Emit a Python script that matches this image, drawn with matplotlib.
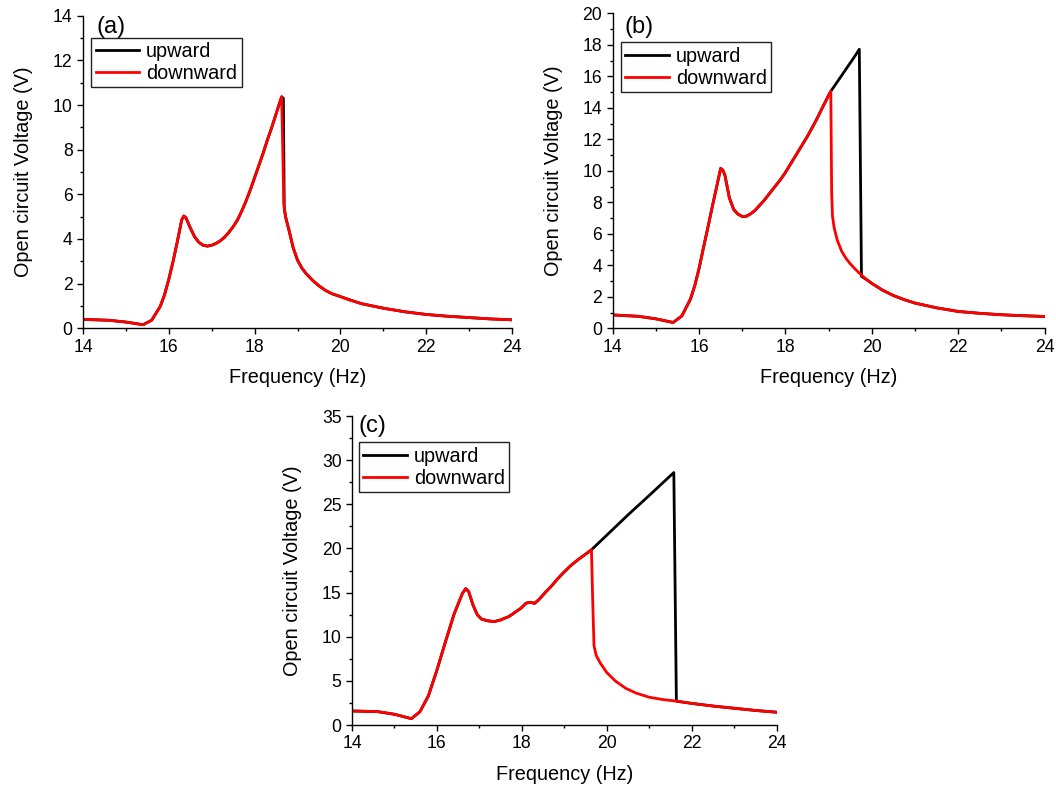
import matplotlib
matplotlib.use("Agg")
import matplotlib.pyplot as plt
from matplotlib.ticker import MultipleLocator

plt.rcParams["font.family"] = ["Liberation Sans", "DejaVu Sans"]

# ---- Panel (a) ----
freq_a_down = [14.0, 14.6, 15.0, 15.4, 15.6, 15.8, 15.9, 16.0, 16.1, 16.2, 16.3, 16.35,
               16.4, 16.5, 16.6, 16.7, 16.8, 16.9, 17.0, 17.1, 17.2, 17.3, 17.4, 17.5,
               17.6, 17.7, 17.8, 17.9, 18.0, 18.1, 18.2, 18.3, 18.4, 18.5, 18.6, 18.63,
               18.66, 18.68, 18.72, 18.8, 18.9, 19.0, 19.1, 19.2, 19.35, 19.5, 19.65, 19.8,
               20.0, 20.25, 20.5, 21.0, 21.5, 22.0, 22.5, 23.0, 23.5, 24.0]
volt_a_down = [0.40, 0.36, 0.28, 0.16, 0.36, 0.98, 1.5, 2.2, 3.0, 3.9, 4.85, 5.03,
               4.95, 4.5, 4.1, 3.85, 3.72, 3.68, 3.72, 3.8, 3.92, 4.08, 4.3, 4.55,
               4.85, 5.25, 5.7, 6.2, 6.75, 7.3, 7.85, 8.45, 9.0, 9.6, 10.2, 10.37,
               7.6, 5.6, 5.0, 4.4, 3.6, 3.05, 2.7, 2.45, 2.15, 1.9, 1.7, 1.55,
               1.42, 1.25, 1.1, 0.9, 0.74, 0.62, 0.54, 0.48, 0.42, 0.38]
freq_a_up = [14.0, 14.6, 15.0, 15.4, 15.6, 15.8, 15.9, 16.0, 16.1, 16.2, 16.3, 16.35,
             16.4, 16.5, 16.6, 16.7, 16.8, 16.9, 17.0, 17.1, 17.2, 17.3, 17.4, 17.5,
             17.6, 17.7, 17.8, 17.9, 18.0, 18.1, 18.2, 18.3, 18.4, 18.5, 18.6, 18.63,
             18.67, 18.69, 18.72, 18.8, 18.9, 19.0, 19.1, 19.2, 19.35, 19.5, 19.65, 19.8,
             20.0, 20.25, 20.5, 21.0, 21.5, 22.0, 22.5, 23.0, 23.5, 24.0]
volt_a_up = [0.40, 0.36, 0.28, 0.16, 0.36, 0.98, 1.5, 2.2, 3.0, 3.9, 4.85, 5.03,
             4.95, 4.5, 4.1, 3.85, 3.72, 3.68, 3.72, 3.8, 3.92, 4.08, 4.3, 4.55,
             4.85, 5.25, 5.7, 6.2, 6.75, 7.3, 7.85, 8.45, 9.0, 9.6, 10.2, 10.37,
             10.3, 5.4, 5.0, 4.4, 3.6, 3.05, 2.7, 2.45, 2.15, 1.9, 1.7, 1.55,
             1.42, 1.25, 1.1, 0.9, 0.74, 0.62, 0.54, 0.48, 0.42, 0.38]

# ---- Panel (b) ----
freq_b_down = [14.0, 14.6, 15.0, 15.4, 15.6, 15.8, 15.9, 16.0, 16.1, 16.2, 16.3, 16.4,
               16.5, 16.55, 16.6, 16.7, 16.8, 16.9, 17.0, 17.1, 17.2, 17.3, 17.4, 17.5,
               17.6, 17.7, 17.8, 17.9, 18.0, 18.1, 18.2, 18.3, 18.4, 18.5, 18.6, 18.7,
               18.8, 18.9, 19.0, 19.05,
               19.07, 19.09, 19.13, 19.2, 19.3, 19.4, 19.5, 19.6, 19.75, 19.9, 20.0,
               20.25, 20.5, 20.75, 21.0, 21.5, 22.0, 22.5, 23.0, 23.5, 24.0]
volt_b_down = [0.85, 0.76, 0.6, 0.37, 0.78, 1.85, 2.7, 3.8, 5.1, 6.35, 7.65, 8.9,
               10.15, 10.05, 9.7, 8.3, 7.55, 7.25, 7.1, 7.12, 7.28, 7.5, 7.8, 8.1,
               8.45, 8.8, 9.15, 9.5, 9.9, 10.35, 10.8, 11.25, 11.7, 12.15, 12.65, 13.15,
               13.7, 14.25, 14.8, 15.05,
               8.6, 7.1, 6.35, 5.6, 4.9, 4.45, 4.1, 3.8, 3.4, 3.05, 2.85,
               2.42, 2.08, 1.82, 1.6, 1.3, 1.07, 0.95, 0.86, 0.8, 0.75]
freq_b_up = [14.0, 14.6, 15.0, 15.4, 15.6, 15.8, 15.9, 16.0, 16.1, 16.2, 16.3, 16.4,
             16.5, 16.55, 16.6, 16.7, 16.8, 16.9, 17.0, 17.1, 17.2, 17.3, 17.4, 17.5,
             17.6, 17.7, 17.8, 17.9, 18.0, 18.1, 18.2, 18.3, 18.4, 18.5, 18.6, 18.7,
             18.8, 18.9, 19.0, 19.05,
             19.2, 19.4, 19.6, 19.71, 19.76, 19.9, 20.0,
             20.25, 20.5, 20.75, 21.0, 21.5, 22.0, 22.5, 23.0, 23.5, 24.0]
volt_b_up = [0.85, 0.76, 0.6, 0.37, 0.78, 1.85, 2.7, 3.8, 5.1, 6.35, 7.65, 8.9,
             10.15, 10.05, 9.7, 8.3, 7.55, 7.25, 7.1, 7.12, 7.28, 7.5, 7.8, 8.1,
             8.45, 8.8, 9.15, 9.5, 9.9, 10.35, 10.8, 11.25, 11.7, 12.15, 12.65, 13.15,
             13.7, 14.25, 14.8, 15.05,
             15.65, 16.45, 17.25, 17.72, 3.3, 3.05, 2.85,
             2.42, 2.08, 1.82, 1.6, 1.3, 1.07, 0.95, 0.86, 0.8, 0.75]

# ---- Panel (c) ----
freq_c_down = [14.0, 14.6, 15.0, 15.4, 15.6, 15.8, 16.0, 16.2, 16.4, 16.6, 16.68,
               16.75, 16.85, 16.95, 17.05, 17.2, 17.35, 17.5, 17.7, 17.97, 18.1,
               18.2, 18.3, 18.4, 18.55, 18.7, 18.85, 19.0, 19.15, 19.33, 19.5, 19.64,
               19.67, 19.7, 19.75, 19.85, 20.0, 20.2, 20.45, 20.7, 21.0, 21.3, 21.65,
               22.0, 22.5, 23.0, 23.5, 24.0]
volt_c_down = [1.59, 1.52, 1.22, 0.72, 1.5, 3.3, 6.2, 9.4, 12.5, 14.9, 15.45,
               15.1, 13.6, 12.5, 12.0, 11.8, 11.72, 11.9, 12.3, 13.2, 13.8,
               13.9, 13.78, 14.2, 15.0, 15.75, 16.6, 17.35, 18.05, 18.75, 19.35, 19.85,
               14.0, 9.0, 7.9, 7.0, 5.95, 5.0, 4.15, 3.6, 3.15, 2.9, 2.7,
               2.45, 2.15, 1.9, 1.65, 1.45]
freq_c_up = [14.0, 14.6, 15.0, 15.4, 15.6, 15.8, 16.0, 16.2, 16.4, 16.6, 16.68,
             16.75, 16.85, 16.95, 17.05, 17.2, 17.35, 17.5, 17.7, 17.97, 18.1,
             18.2, 18.3, 18.4, 18.55, 18.7, 18.85, 19.0, 19.15, 19.33, 19.5, 19.64,
             20.0, 20.5, 21.0, 21.58, 21.64,
             22.0, 22.5, 23.0, 23.5, 24.0]
volt_c_up = [1.59, 1.52, 1.22, 0.72, 1.5, 3.3, 6.2, 9.4, 12.5, 14.9, 15.45,
             15.1, 13.6, 12.5, 12.0, 11.8, 11.72, 11.9, 12.3, 13.2, 13.8,
             13.9, 13.78, 14.2, 15.0, 15.75, 16.6, 17.35, 18.05, 18.75, 19.35, 19.85,
             21.5, 23.8, 26.0, 28.6, 2.7,
             2.45, 2.15, 1.9, 1.65, 1.45]

panel_labels = ["(a)", "(b)", "(c)"]
y_limits = [14, 20, 35]
y_major = [2, 2, 5]
y_minor = [1, 1, 2.5]
series_names = ["upward", "downward"]

fig = plt.figure(figsize=(10.56, 7.89), dpi=100)

axes_rects = [
    [0.0786, 0.5839, 0.4063, 0.3962],
    [0.5802, 0.5839, 0.4090, 0.3992],
    [0.3333, 0.0811, 0.4021, 0.3916],
]
legend_anchor = [(0.019, 0.93), (0.019, 0.908), (0.0165, 0.915)]
label_pos = [(0.032, 1.0), (0.027, 0.992), (0.016, 1.003)]

data = [
    (freq_a_up, volt_a_up, freq_a_down, volt_a_down),
    (freq_b_up, volt_b_up, freq_b_down, volt_b_down),
    (freq_c_up, volt_c_up, freq_c_down, volt_c_down),
]

for i, rect in enumerate(axes_rects):
    ax = fig.add_axes(rect)
    fu, vu, fd, vd = data[i]
    ax.plot(fu, vu, color="black", lw=2.0, label=series_names[0])
    ax.plot(fd, vd, color="#ff0000", lw=2.0, label=series_names[1])

    ax.set_xlim(14, 24)
    ax.set_ylim(0, y_limits[i])
    ax.xaxis.set_major_locator(MultipleLocator(2))
    ax.xaxis.set_minor_locator(MultipleLocator(1))
    ax.yaxis.set_major_locator(MultipleLocator(y_major[i]))
    ax.yaxis.set_minor_locator(MultipleLocator(y_minor[i]))

    for side in ("top", "right"):
        ax.spines[side].set_visible(False)
    for side in ("left", "bottom"):
        ax.spines[side].set_linewidth(1.0)

    ax.tick_params(which="major", direction="out", length=4.5, width=1.0,
                   labelsize=12.7, pad=3)
    ax.tick_params(which="minor", direction="out", length=2.5, width=1.0)

    ax.set_xlabel("Frequency (Hz)", fontsize=14.3, labelpad=9)
    ax.set_ylabel("Open circuit Voltage (V)", fontsize=14.3, labelpad=14)

    ax.text(label_pos[i][0], label_pos[i][1], panel_labels[i], transform=ax.transAxes,
            fontsize=17, ha="left", va="top")

    leg = ax.legend(loc="upper left", bbox_to_anchor=legend_anchor[i],
                    borderaxespad=0, fontsize=14.3, frameon=True, fancybox=False,
                    handlelength=2.2, handletextpad=0.35, borderpad=0.22,
                    labelspacing=0.15)
    frame = leg.get_frame()
    frame.set_edgecolor("#222222")
    frame.set_linewidth(1.0)
    frame.set_alpha(1)

fig.savefig("out.png", dpi=100)
